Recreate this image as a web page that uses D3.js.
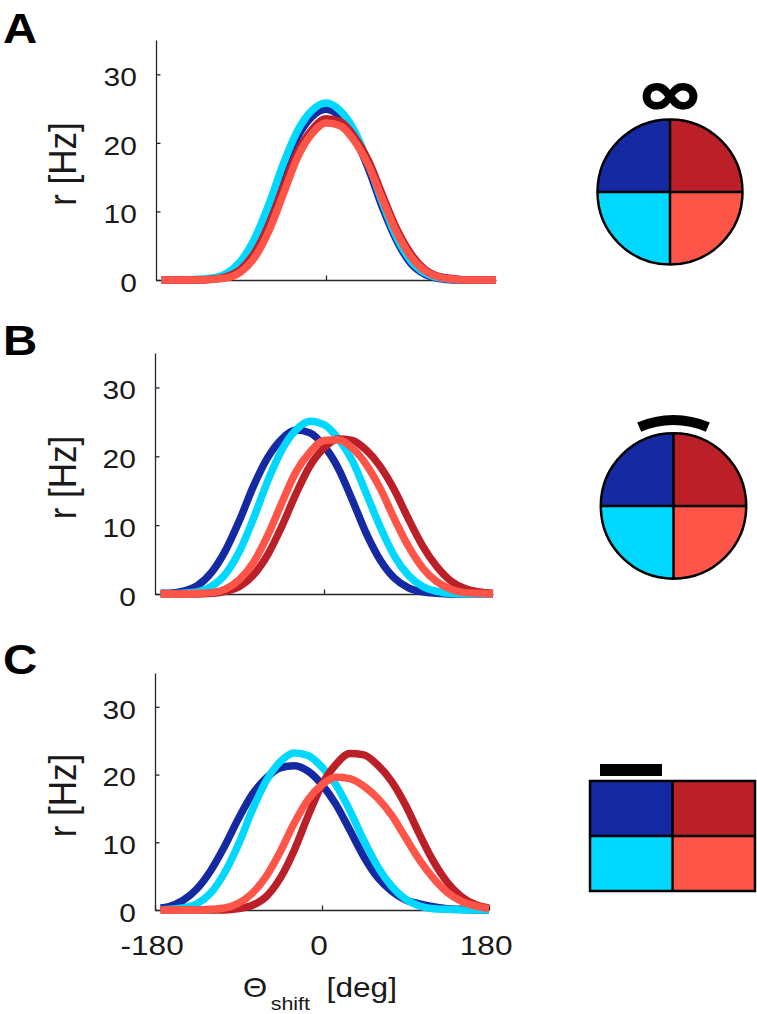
<!DOCTYPE html>
<html>
<head>
<meta charset="utf-8">
<script src="https://cdn.jsdelivr.net/npm/d3@7"></script>
<style>
  html, body { margin: 0; padding: 0; background: #ffffff; }
  svg { display: block; }
</style>
</head>
<body>
<svg id="chart" width="757" height="1014"></svg>
<script>
// ---------------- data ----------------
const theta = [-174,-165,-150,-135,-120,-105,-90,-75,-60,-45,-30,-15,0,15,30,45,60,75,90,105,120,135,150,165,180];

const blueA    = [0,0,0,0,0.2,0.8,2.4,5.7,10.5,16.2,20.9,23.8,24.9,23.8,20.9,16.2,10.5,5.7,2.4,0.8,0.2,0,0,0,0];
const cyanA    = [0,0,0,0.1,0.3,1.0,2.8,6.2,11.2,17.0,21.8,24.7,25.8,24.7,21.8,17.0,11.2,6.2,2.8,1.0,0.3,0.1,0,0,0];
const darkRedA = [0,0,0,0,0.1,0.5,1.6,4.1,8.2,13.6,18.7,21.9,23.5,23.1,20.9,17.4,12.3,7.4,3.8,1.5,0.5,0.2,0,0,0];
const salmonA  = [0,0,0,0,0.1,0.3,1.2,3.4,7.3,12.6,17.9,21.3,22.9,22.5,20.3,16.7,11.7,6.9,3.4,1.3,0.4,0.1,0,0,0];

const blueB    = [0.1,0.1,0.4,1.2,3.1,6.3,10.7,15.7,19.8,22.5,23.8,23.4,21.5,18.3,13.7,8.8,4.9,2.3,0.9,0.3,0.1,0,0,0,0];
const cyanB    = [0,0,0.1,0.3,1.1,2.9,6.2,11.0,16.4,20.9,23.8,25.1,24.6,22.6,19.4,14.6,9.7,5.5,2.7,1.1,0.4,0.1,0,0,0];
const darkRedB = [0,0,0,0,0.1,0.4,1.1,2.8,5.7,9.8,14.5,18.6,21.2,22.5,22.3,20.9,18.5,15.1,10.9,7.0,4.0,1.9,0.8,0.3,0.1];
const salmonB  = [0,0,0,0.1,0.2,0.7,2.1,4.6,8.5,13.2,17.7,20.6,22.3,22.4,21.2,18.8,15.3,10.9,6.9,3.8,1.8,0.7,0.2,0.1,0];

const blueC    = [0.3,0.5,1.4,3.1,5.8,9.4,13.5,17.1,19.5,21.0,21.3,20.5,18.5,15.6,11.8,7.9,4.8,2.8,1.5,0.9,0.5,0.2,0.1,0,0];
const cyanC    = [0,0.1,0.3,0.9,2.5,5.5,9.7,14.8,19.1,21.9,23.2,22.8,21.1,18.5,14.7,10.3,6.4,3.5,1.6,0.6,0.2,0.1,0,0,0];
const darkRedC = [0,0,0,0,0,0,0.2,0.7,2.0,4.7,8.8,13.9,18.5,21.5,23.1,22.9,21.4,19.0,15.5,11.2,7.2,4.1,2.0,0.8,0.3];
const salmonC  = [0,0,0,0,0.1,0.3,1.0,2.5,5.0,8.6,12.8,16.3,18.5,19.6,19.4,18.3,16.5,14.0,10.7,7.4,4.7,2.6,1.3,0.6,0.2];

const seriesNames  = ["blue", "cyan", "darkRed", "salmon"];
const seriesColors = ["#1529a3", "#00d8ff", "#bb2029", "#ff5548"];
const yTickValues  = [0, 10, 20, 30];
const xTickValuesC = [-180, 0, 180];
const xTickLabelsC = ["-180", "0", "180"];
const panelLetters = ["A", "B", "C"];
const yLabel = "r [Hz]";
const xLabelMain = "\u0398";
const xLabelSub = "shift";
const xLabelUnit = "[deg]";
const quadrantColors = ["#1529a3", "#bb2029", "#ff5548", "#00d8ff"]; // TL, TR, BR, BL

// ---------------- layout ----------------
const panels = [
  { letter: panelLetters[0], data: [blueA, cyanA, darkRedA, salmonA], left: 156, right: 496, y0: 280, yTop: 40, letterY: 43, showX: false },
  { letter: panelLetters[1], data: [blueB, cyanB, darkRedB, salmonB], left: 155, right: 493, y0: 594, yTop: 353, letterY: 355, showX: false },
  { letter: panelLetters[2], data: [blueC, cyanC, darkRedC, salmonC], left: 155, right: 489, y0: 910, yTop: 673, letterY: 674, showX: true }
];

const svg = d3.select("#chart");
const FONT = "'Liberation Sans', Arial, Helvetica, sans-serif";
const SX = 1.13;
const axisColor = "#262626";

panels.forEach((p) => {
  const x = d3.scaleLinear().domain([-180, 180]).range([p.left, p.right]);
  const y = d3.scaleLinear().domain([0, 35]).range([p.y0, p.yTop]);
  const g = svg.append("g");

  // panel letter
  g.append("text")
    .attr("transform", `translate(3,${p.letterY}) scale(${SX},1)`)
    .attr("font-family", FONT).attr("font-weight", "bold").attr("font-size", 42)
    .attr("fill", "#000").text(p.letter);

  // y axis
  const yAxis = d3.axisLeft(y).tickValues(yTickValues).tickSizeInner(-4.5).tickSizeOuter(0).tickPadding(17);
  const ya = g.append("g").attr("transform", `translate(${p.left},0)`).call(yAxis);
  ya.select(".domain").attr("stroke", axisColor).attr("stroke-width", 1.3);
  ya.selectAll(".tick line").attr("stroke", axisColor).attr("stroke-width", 1.3);
  ya.selectAll(".tick text")
    .attr("font-family", FONT).attr("font-size", 26.5).attr("fill", "#1a1a1a")
    .attr("dy", null).attr("y", 11.3)
    .attr("transform", `scale(${SX},1)`);

  // x axis
  const xAxis = d3.axisBottom(x)
    .tickValues(p.showX ? xTickValuesC : [0])
    .tickFormat((d, i) => p.showX ? xTickLabelsC[i] : "")
    .tickSizeInner(-4.5).tickSizeOuter(0).tickPadding(0);
  const xa = g.append("g").attr("transform", `translate(0,${p.y0})`).call(xAxis);
  xa.select(".domain").attr("stroke", axisColor).attr("stroke-width", 1.3);
  xa.selectAll(".tick line").attr("stroke", axisColor).attr("stroke-width", 1.3);
  xa.selectAll(".tick text")
    .attr("font-family", FONT).attr("font-size", 28).attr("fill", "#1a1a1a")
    .attr("dy", null).attr("y", 45).attr("x", -3)
    .attr("text-anchor", "middle")
    .attr("transform", `scale(${SX},1)`);

  // y label
  g.append("text")
    .attr("transform", `translate(76,${(p.y0 + p.yTop) / 2 + 4}) scale(${SX},1) rotate(-90)`)
    .attr("text-anchor", "middle")
    .attr("font-family", FONT).attr("font-size", 35).attr("fill", "#1a1a1a")
    .text(yLabel);

  // curves
  const line = d3.line()
    .x((d, i) => x(theta[i]))
    .y((d) => y(d))
    .curve(d3.curveMonotoneX);
  p.data.forEach((vals, k) => {
    g.append("path")
      .datum(vals)
      .attr("class", "curve " + seriesNames[k])
      .attr("d", line)
      .attr("fill", "none")
      .attr("stroke", seriesColors[k])
      .attr("stroke-width", 7.5)
      .attr("stroke-linejoin", "round")
      .attr("stroke-linecap", "butt");
  });
});

// x label (panel C)
const xl = svg.append("text")
  .attr("transform", `translate(243,997) scale(${SX},1)`)
  .attr("font-family", FONT).attr("fill", "#1a1a1a");
xl.append("tspan").attr("x", 0).attr("y", 0).attr("font-size", 27.5).text(xLabelMain);
xl.append("tspan").attr("x", 24.5).attr("y", 13).attr("font-size", 19).text(xLabelSub);
xl.append("tspan").attr("x", 74).attr("y", 0).attr("font-size", 28).text(xLabelUnit);

// ---------------- icons ----------------
function quadCircle(cx, cy, r) {
  const g = svg.append("g").attr("transform", `translate(${cx},${cy})`);
  const arc = d3.arc().innerRadius(0).outerRadius(r);
  const quads = [[0, Math.PI / 2], [Math.PI / 2, Math.PI], [Math.PI, 1.5 * Math.PI], [-Math.PI / 2, 0]];
  // TR darkred, BR salmon, BL cyan, TL blue
  const cols = [quadrantColors[1], quadrantColors[2], quadrantColors[3], quadrantColors[0]];
  quads.forEach((q, i) => {
    g.append("path").attr("d", arc({ startAngle: q[0], endAngle: q[1] })).attr("fill", cols[i]);
  });
  g.append("line").attr("x1", -r).attr("x2", r).attr("y1", 0).attr("y2", 0).attr("stroke", "#000").attr("stroke-width", 2.5);
  g.append("line").attr("x1", 0).attr("x2", 0).attr("y1", -r).attr("y2", r).attr("stroke", "#000").attr("stroke-width", 2.5);
  g.append("circle").attr("r", r).attr("fill", "none").attr("stroke", "#000").attr("stroke-width", 2.5);
  return g;
}

// A: circular arena, infinite wall
quadCircle(670, 192, 72.5);
svg.append("text")
  .attr("transform", "translate(670,114) scale(1.35,1)")
  .attr("text-anchor", "middle")
  .attr("font-family", "'DejaVu Sans', sans-serif").attr("font-weight", "bold")
  .attr("font-size", 60).attr("fill", "#000")
  .attr("stroke", "#000").attr("stroke-width", 1.6)
  .text("\u221E");

// B: circular arena with arc cue
const gB = quadCircle(673.5, 506, 72.7);
gB.append("path")
  .attr("d", d3.arc().innerRadius(81).outerRadius(91)({ startAngle: -0.41, endAngle: 0.41 }))
  .attr("fill", "#000");

// C: rectangular arena with bar cue
const rect = { x: 590, y: 781, w: 165, h: 110 };
const gC = svg.append("g");
const halfW = rect.w / 2, halfH = rect.h / 2;
[[0, 0, quadrantColors[0]], [1, 0, quadrantColors[1]], [0, 1, quadrantColors[3]], [1, 1, quadrantColors[2]]].forEach(([i, j, c]) => {
  gC.append("rect").attr("x", rect.x + i * halfW).attr("y", rect.y + j * halfH)
    .attr("width", halfW).attr("height", halfH).attr("fill", c);
});
gC.append("line").attr("x1", rect.x).attr("x2", rect.x + rect.w).attr("y1", rect.y + halfH).attr("y2", rect.y + halfH).attr("stroke", "#000").attr("stroke-width", 2.5);
gC.append("line").attr("x1", rect.x + halfW).attr("x2", rect.x + halfW).attr("y1", rect.y).attr("y2", rect.y + rect.h).attr("stroke", "#000").attr("stroke-width", 2.5);
gC.append("rect").attr("x", rect.x).attr("y", rect.y).attr("width", rect.w).attr("height", rect.h)
  .attr("fill", "none").attr("stroke", "#000").attr("stroke-width", 2.5);
gC.append("rect").attr("x", 600).attr("y", 764).attr("width", 62).attr("height", 12).attr("fill", "#000");
</script>
</body>
</html>
